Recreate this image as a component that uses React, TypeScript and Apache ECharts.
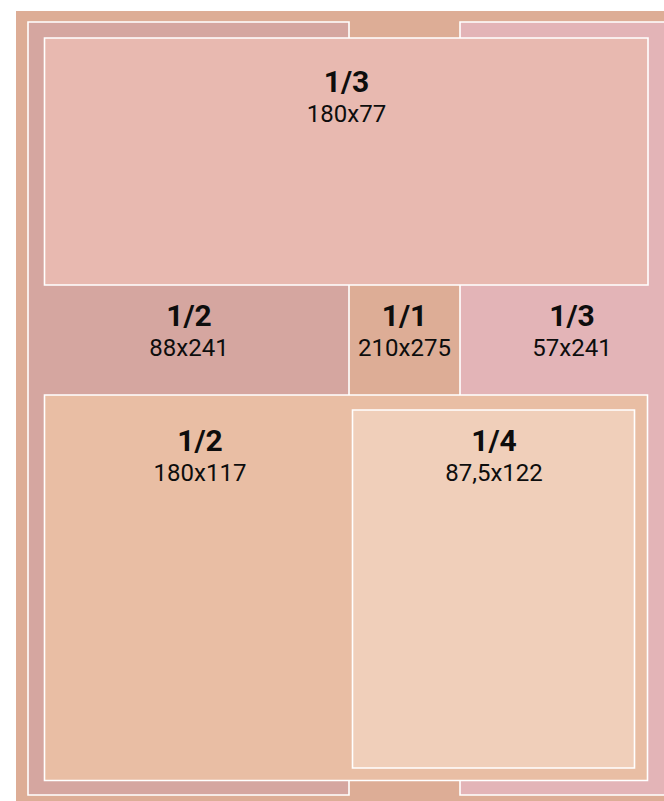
import React, { useEffect, useRef } from "react";
import * as echarts from "echarts";

// Nested boxes: fraction label, size label and box extents (in page units)
const fractions = ["1/1", "1/2", "1/3", "1/3", "1/2", "1/4"];
const sizeLabels = ["210x275", "88x241", "57x241", "180x77", "180x117", "87,5x122"];
const boxLeft = [16, 28, 460, 44.5, 44.5, 352.5];
const boxTop = [11, 22, 22, 38, 395, 410];
const boxRight = [720, 349, 720, 648, 647.5, 634.5];
const boxBottom = [860, 795, 795, 285, 780.5, 768];
const labelX = [404.5, 189, 572, 346.5, 200, 494];
const labelY = [315, 315, 315, 81, 440, 440];

const fills = ["#ddad96", "#d5a6a0", "#e3b4b7", "#e8b9b0", "#e9bea4", "#f0cfba"];
const hasBorder = [false, true, true, true, true, true];

const FONT = "Roboto, 'Open Sans', sans-serif";

export default function App() {
  const ref = useRef<HTMLDivElement>(null);
  useEffect(() => {
    if (!ref.current) return;
    const chart = echarts.init(ref.current, null, { renderer: "svg" });
    const data = fractions.map((f, i) => [
      boxLeft[i], boxTop[i], boxRight[i], boxBottom[i], labelX[i], labelY[i], i,
    ]);
    chart.setOption({
      animation: false,
      grid: { left: 0, right: 0, top: 0, bottom: 0 },
      xAxis: { type: "value", min: 0, max: 664, show: false },
      yAxis: { type: "value", min: 0, max: 801, inverse: true, show: false },
      series: [
        {
          type: "custom",
          clip: true,
          data,
          encode: { x: [0, 2, 4], y: [1, 3, 5] },
          renderItem: (params: any, api: any) => {
            const i = api.value(6);
            const p0 = api.coord([api.value(0), api.value(1)]);
            const p1 = api.coord([api.value(2), api.value(3)]);
            const lp = api.coord([api.value(4), api.value(5)]);
            return {
              type: "group",
              children: [
                {
                  type: "rect",
                  shape: { x: p0[0], y: p0[1], width: p1[0] - p0[0], height: p1[1] - p0[1] },
                  style: {
                    fill: fills[i],
                    stroke: hasBorder[i] ? "#ffffff" : null,
                    lineWidth: hasBorder[i] ? 1.6 : 0,
                  },
                },
                {
                  type: "text",
                  z2: 10,
                  style: {
                    text: fractions[i],
                    x: lp[0],
                    y: lp[1],
                    fill: "#0d0d0d",
                    fontFamily: FONT,
                    fontWeight: "bold",
                    fontSize: 30,
                    align: "center",
                    verticalAlign: "middle",
                  },
                },
                {
                  type: "text",
                  z2: 10,
                  style: {
                    text: sizeLabels[i],
                    x: lp[0],
                    y: lp[1] + 33,
                    fill: "#0d0d0d",
                    fontFamily: FONT,
                    fontSize: 24,
                    align: "center",
                    verticalAlign: "middle",
                  },
                },
              ],
            };
          },
        },
      ],
    });
    return () => chart.dispose();
  }, []);
  return (
    <div
      ref={ref}
      style={{ position: "absolute", left: 0, top: 0, width: 664, height: 801 }}
    />
  );
}
